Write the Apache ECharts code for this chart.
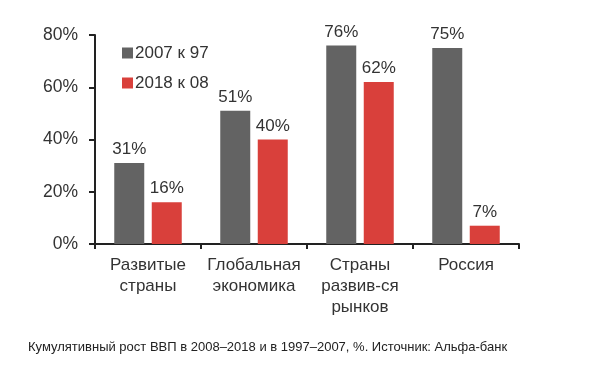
<!DOCTYPE html>
<html>
<head>
<meta charset="utf-8">
<script src="https://cdn.jsdelivr.net/npm/echarts@6/dist/echarts.min.js"></script>
<style>html,body{margin:0;padding:0;background:#fff;}#c{width:590px;height:367px;}</style>
</head>
<body>
<div id="c"></div>
<script>
var categories = ['Развитые\nстраны', 'Глобальная\nэкономика', 'Страны\nразвив-ся\nрынков', 'Россия'];
var series2007 = [31, 51, 76, 75];
var series2018 = [16, 40, 62, 7];
var seriesNames = ['2007 к 97', '2018 к 08'];
var yTicks = [0, 20, 40, 60, 80];
var caption = 'Кумулятивный рост ВВП в 2008–2018 и в 1997–2007, %. Источник: Альфа-банк';

var chart = echarts.init(document.getElementById('c'));
var font = 'Liberation Sans, Arial, sans-serif';
chart.setOption({
  backgroundColor: '#ffffff',
  animation: false,
  title: {
    text: caption,
    left: 28, top: 341, padding: 0,
    textStyle: {fontSize: 13, fontWeight: 'normal', color: '#222', fontFamily: font}
  },
  legend: {
    orient: 'vertical',
    left: 117, top: 38,
    itemWidth: 11, itemHeight: 11, itemGap: 10,
    icon: 'rect',
    textStyle: {fontSize: 17, color: '#333', fontFamily: font, lineHeight: 20, padding: [0,0,0,-3]},
    data: seriesNames
  },
  grid: {left: 95, right: 71, top: 35, bottom: 123, containLabel: false},
  xAxis: {
    type: 'category',
    data: categories,
    axisLine: {lineStyle: {color: '#222', width: 2}},
    axisTick: {show: true, length: 5, lineStyle: {color: '#222', width: 2}, alignWithLabel: false},
    axisLabel: {fontSize: 17, color: '#333', fontFamily: font, lineHeight: 21, margin: 11, interval: 0}
  },
  yAxis: {
    type: 'value',
    min: yTicks[0], max: yTicks[yTicks.length - 1], interval: 20,
    splitLine: {show: false},
    axisLine: {show: true, lineStyle: {color: '#222', width: 2}},
    axisTick: {show: true, length: 6, lineStyle: {color: '#222', width: 2}},
    axisLabel: {fontSize: 17.5, color: '#333', fontFamily: font, margin: 17, formatter: '{value}%'}
  },
  series: [
    {
      name: seriesNames[0], type: 'bar', data: series2007,
      barWidth: 30, barGap: '25%',
      itemStyle: {color: '#636363'},
      label: {show: true, position: 'top', distance: 5, fontSize: 17, color: '#333', fontFamily: font, formatter: '{c}%'}
    },
    {
      name: seriesNames[1], type: 'bar', data: series2018,
      barWidth: 30,
      itemStyle: {color: '#d9403b'},
      label: {show: true, position: 'top', distance: 5, fontSize: 17, color: '#333', fontFamily: font, formatter: '{c}%'}
    }
  ]
});
</script>
</body>
</html>
